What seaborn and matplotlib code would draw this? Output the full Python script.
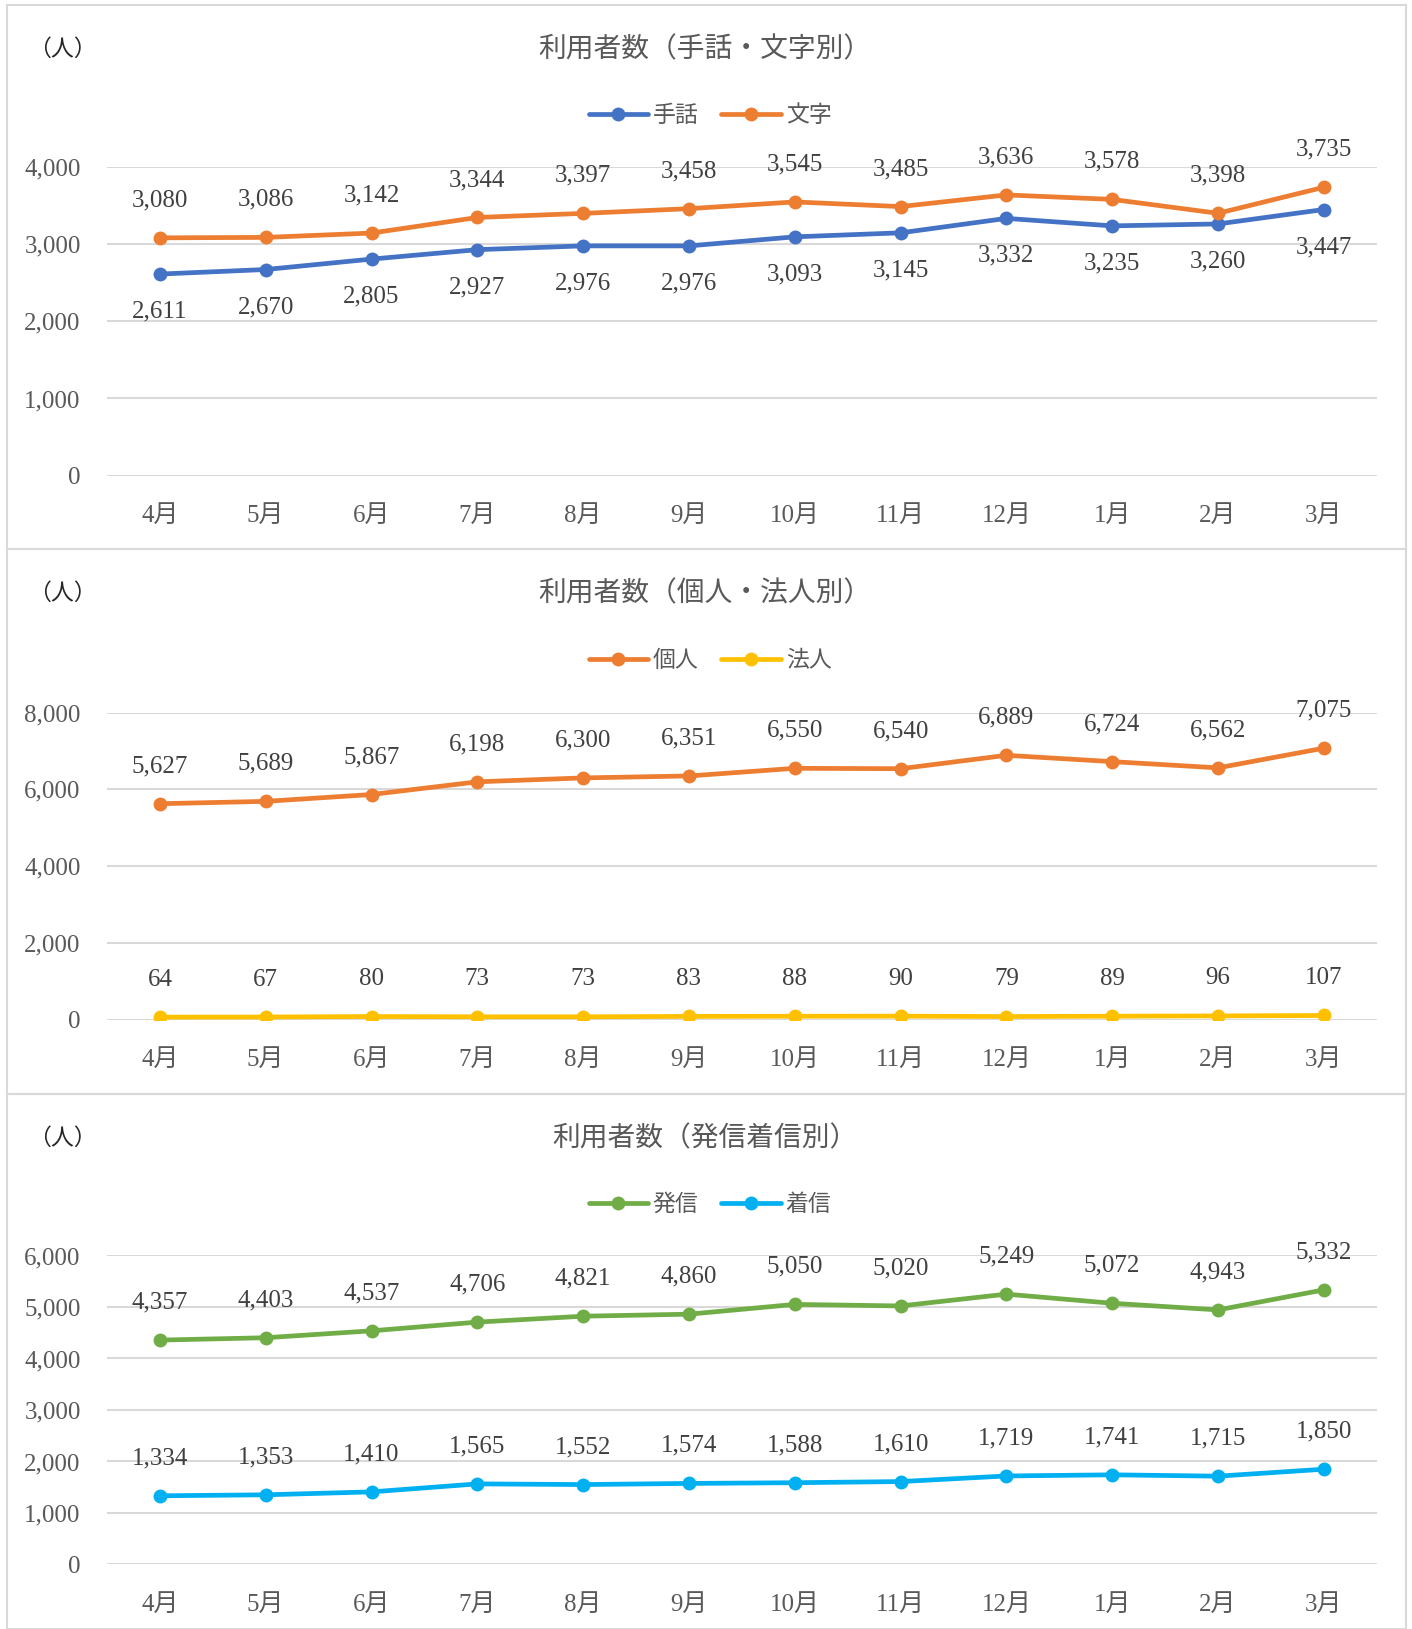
import pandas as pd
import matplotlib.pyplot as plt
import matplotlib.patches as mpatches
import seaborn as sns

months = ['4月', '5月', '6月', '7月', '8月', '9月', '10月', '11月', '12月', '1月', '2月', '3月']

shuwa = [2611, 2670, 2805, 2927, 2976, 2976, 3093, 3145, 3332, 3235, 3260, 3447]
moji = [3080, 3086, 3142, 3344, 3397, 3458, 3545, 3485, 3636, 3578, 3398, 3735]

kojin = [5627, 5689, 5867, 6198, 6300, 6351, 6550, 6540, 6889, 6724, 6562, 7075]
houjin = [64, 67, 80, 73, 73, 83, 88, 90, 79, 89, 96, 107]

hasshin = [4357, 4403, 4537, 4706, 4821, 4860, 5050, 5020, 5249, 5072, 4943, 5332]
chakushin = [1334, 1353, 1410, 1565, 1552, 1574, 1588, 1610, 1719, 1741, 1715, 1850]

sns.set_theme(style='white')
plt.rcParams['font.family'] = ['Liberation Serif', 'Noto Sans CJK JP', 'DejaVu Sans']

GRID = '#D9D9D9'
TXT = '#595959'

panels = [
    dict(title='利用者数（手話・文字別）', names=['手話', '文字'], values=[shuwa, moji],
         colors=['#4472C4', '#ED7D31'], below=['手話'], ymax=4000, step=1000,
         rect=[0.0758, 0.708, 0.8992, 0.1896], box=(5, 549), title_y=50, leg_y=116),
    dict(title='利用者数（個人・法人別）', names=['個人', '法人'], values=[kojin, houjin],
         colors=['#ED7D31', '#FFC000'], below=[], ymax=8000, step=2000,
         rect=[0.0758, 0.3741, 0.8992, 0.1884], box=(549, 1094), title_y=594, leg_y=661),
    dict(title='利用者数（発信着信別）', names=['発信', '着信'], values=[hasshin, chakushin],
         colors=['#70AD47', '#00B0F0'], below=[], ymax=6000, step=1000,
         rect=[0.0758, 0.0396, 0.8992, 0.1897], box=(1094, 1629), title_y=1139, leg_y=1205),
]

W, H = 1412, 1629
fig = plt.figure(figsize=(W / 100, H / 100), dpi=100)

for p in panels:
    y0, y1 = p['box']
    fig.patches.append(mpatches.Rectangle((7 / W, 1 - y1 / H), 1399 / W, (y1 - y0) / H,
                                          transform=fig.transFigure, fill=False,
                                          edgecolor=GRID, linewidth=1.5))

    ax = fig.add_axes(p['rect'])
    df = pd.DataFrame({
        'month': months * 2,
        'value': p['values'][0] + p['values'][1],
        'series': [p['names'][0]] * 12 + [p['names'][1]] * 12,
    })
    sns.lineplot(data=df, x='month', y='value', hue='series', palette=p['colors'],
                 marker='o', markersize=10, markeredgewidth=0, linewidth=3.4,
                 sort=False, ax=ax, legend=False)

    for name, vals in zip(p['names'], p['values']):
        off = -27 if name in p['below'] else 27
        for i, v in enumerate(vals):
            ax.annotate(f'{v:,}', (i, v), xytext=(0, off), textcoords='offset points',
                        ha='center', va='center', fontsize=18, color='#404040')

    ax.set_xlim(-0.5, 11.5)
    ax.set_ylim(0, p['ymax'])
    ax.set_yticks(range(0, p['ymax'] + 1, p['step']))
    ax.set_yticklabels([f'{t:,}' for t in range(0, p['ymax'] + 1, p['step'])])
    ax.grid(axis='y', color=GRID, linewidth=1.5)
    ax.set_axisbelow(True)
    for s in ['top', 'right', 'left', 'bottom']:
        ax.spines[s].set_visible(False)
    ax.tick_params(axis='both', length=0, labelsize=18, labelcolor=TXT)
    ax.tick_params(axis='x', pad=21)
    ax.tick_params(axis='y', pad=19)
    ax.set_xlabel('')
    ax.set_ylabel('')

    fig.text(705 / W, 1 - p['title_y'] / H, p['title'], ha='center', va='center',
             fontsize=20, color=TXT)
    fig.text(62 / W, 1 - p['title_y'] / H, '（人）', ha='center', va='center',
             fontsize=16.5, color='#262626')

    handles = [plt.Line2D([], [], color=c, linewidth=3.4, marker='o', markersize=10,
                          markeredgewidth=0) for c in p['colors']]
    fig.legend(handles, p['names'], loc='center', bbox_to_anchor=(710 / W, 1 - p['leg_y'] / H),
               ncol=2, frameon=False, fontsize=16.5, labelcolor=TXT, handlelength=2.6,
               handletextpad=0.2, columnspacing=1.0)

fig.savefig('out.png', dpi=100)
